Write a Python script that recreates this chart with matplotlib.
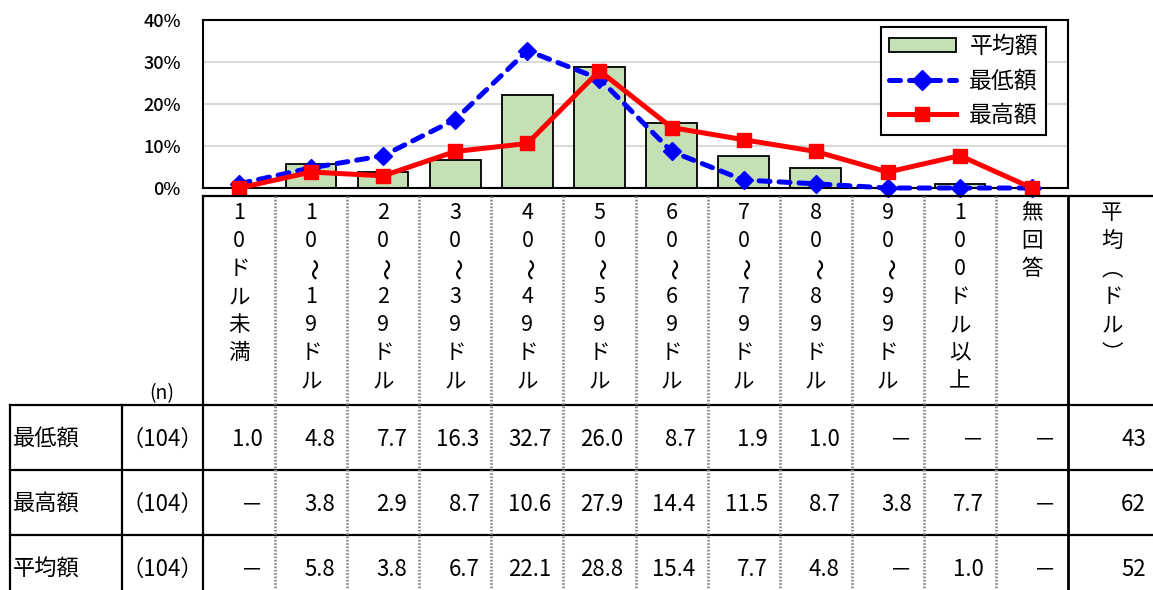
import numpy as np
import matplotlib
matplotlib.use('Agg')
import matplotlib.pyplot as plt
import matplotlib.transforms as mtransforms
from matplotlib.patches import Patch
from matplotlib.lines import Line2D

plt.rcParams['font.family'] = ['Noto Sans CJK JP', 'DejaVu Sans']

nan = np.nan
categories = ['10ドル未満', '10～19ドル', '20～29ドル', '30～39ドル', '40～49ドル',
              '50～59ドル', '60～69ドル', '70～79ドル', '80～89ドル', '90～99ドル',
              '100ドル以上', '無回答']
mean_header = '平均（ドル）'
row_names = ['最低額', '最高額', '平均額']
n_values = [104, 104, 104]
min_vals = [1.0, 4.8, 7.7, 16.3, 32.7, 26.0, 8.7, 1.9, 1.0, nan, nan, nan]
max_vals = [nan, 3.8, 2.9, 8.7, 10.6, 27.9, 14.4, 11.5, 8.7, 3.8, 7.7, nan]
avg_vals = [nan, 5.8, 3.8, 6.7, 22.1, 28.8, 15.4, 7.7, 4.8, nan, 1.0, nan]
mean_dollars = [43, 62, 52]
yticks = [0, 10, 20, 30, 40]

W, H = 1153, 590
fig = plt.figure(figsize=(W / 100, H / 100), dpi=100)

# chart axes (pixel box: x 203..1068, y 20..188)
ax = fig.add_axes([203 / W, 1 - 188 / H, 865 / W, 168 / H])
x = np.arange(len(categories))
to0 = lambda v: np.nan_to_num(np.array(v, dtype=float), nan=0.0)

ax.bar(x, to0(avg_vals), width=0.70, color='#C5E0B4', edgecolor='black',
       linewidth=1.3, zorder=2)
ax.plot(x, to0(min_vals), color='#0000FF', linewidth=3.6, linestyle=(0, (2.2, 1.8)),
        dash_capstyle='round', marker='D', markersize=9, zorder=3, clip_on=False)
ax.plot(x, to0(max_vals), color='#FF0000', linewidth=3.6, marker='s',
        markersize=10, zorder=4, clip_on=False)

ax.set_xlim(-0.5, len(categories) - 0.5)
ax.set_ylim(0, 40)
ax.set_yticks(yticks)
ax.set_yticklabels([f'{t}%' for t in yticks], fontsize=13, fontweight='medium')
ax.tick_params(axis='y', length=0, pad=16)
ax.set_xticks([])
ax.grid(axis='y', color='#D9D9D9', linewidth=1.5, zorder=0)
ax.set_axisbelow(True)
for s in ax.spines.values():
    s.set_linewidth(1.5)
    s.set_color('black')

handles = [Patch(facecolor='#C5E0B4', edgecolor='black', linewidth=1.3),
           Line2D([], [], color='#0000FF', linewidth=3.6, linestyle=(0, (2.2, 1.8)),
                  dash_capstyle='round', marker='D', markersize=10),
           Line2D([], [], color='#FF0000', linewidth=3.6, marker='s', markersize=10)]
leg = ax.legend(handles, ['平均額', '最低額', '最高額'], loc='upper right',
                bbox_to_anchor=(1 - 22 / 865, 1 - 7 / 168), borderaxespad=0,
                fontsize=16.5, handlelength=2.9, labelspacing=0.5, fancybox=False,
                framealpha=1, edgecolor='black', borderpad=0.35, handletextpad=0.6,
                handleheight=0.6)
leg.get_frame().set_linewidth(1.5)

# overlay in pixel coordinates for the table
ov = fig.add_axes([0, 0, 1, 1])
ov.set_xlim(0, W)
ov.set_ylim(H, 0)
ov.axis('off')
bt = mtransforms.blended_transform_factory(ax.transData, ov.transData)

ncat = len(categories)
top_y, hdr_bot = 196, 405
row_h = 65
bottom_y = H + 5
solid = dict(color='black', linewidth=1.6)
dotted = dict(color='#8C8C8C', linewidth=2.0, linestyle=(0, (0.6, 0.6)))

# header top line
ov.plot([-0.5, ncat - 0.5 + 85 / 72.1], [top_y, top_y], transform=bt, **solid)
# row horizontal lines
for r in range(3):
    yy = hdr_bot + r * row_h
    ov.plot([10, W], [yy, yy], **solid)
# vertical lines
ov.plot([10, 10], [hdr_bot, bottom_y], **solid)
ov.plot([122, 122], [hdr_bot, bottom_y], **solid)
ov.plot([-0.5, -0.5], [top_y, bottom_y], transform=bt, **solid)
for i in range(1, ncat):
    ov.plot([i - 0.5, i - 0.5], [top_y, bottom_y], transform=bt, **dotted)
ov.plot([ncat - 0.5, ncat - 0.5], [top_y, bottom_y], transform=bt,
        color='black', linewidth=2.0)

# vertical header text
vert_map = {'（': '︵', '）': '︶'}
def vertical(label, xc, trans, y0=213, step=28):
    for k, ch in enumerate(label):
        rot = 0
        if ch == '～':
            ch, rot = '〜', -90
        ch = vert_map.get(ch, ch)
        ov.text(xc, y0 + k * step, ch, transform=trans,
                ha='center', va='center', fontsize=15.5, rotation=rot,
                rotation_mode='anchor', fontweight='medium' if rot else 'normal')

for i, c in enumerate(categories):
    vertical(c, i, bt)
vertical(mean_header, 1112.0, ov.transData)

ov.text(162, 394, '(n)', ha='center', va='center', fontsize=14)

def fmt(v):
    return '－' if np.isnan(v) else f'{v:.1f}'

for r, (name, vals) in enumerate(zip(row_names, [min_vals, max_vals, avg_vals])):
    yc = hdr_bot + r * row_h + row_h / 2 + 2
    ov.text(13, yc, name, ha='left', va='center', fontsize=16)
    ov.text(162, yc, f'（{n_values[r]}）', ha='center', va='center', fontsize=16)
    for i in range(ncat):
        ov.text(i + 0.5 - 12 / 72.1, yc, fmt(vals[i]), transform=bt,
                ha='right', va='center', fontsize=16)
    ov.text(1146, yc, str(mean_dollars[r]), ha='right', va='center', fontsize=16)

fig.savefig('out.png', dpi=100)
